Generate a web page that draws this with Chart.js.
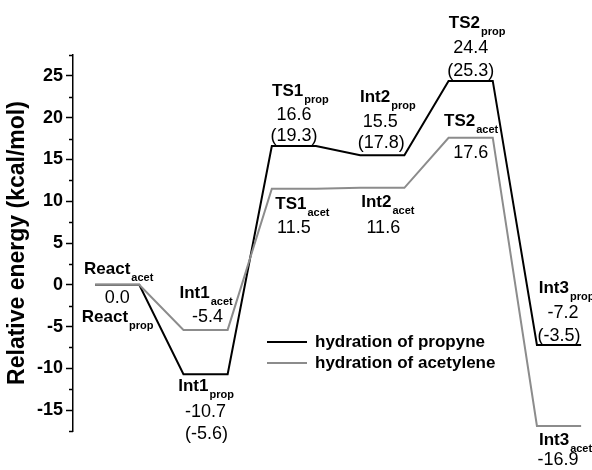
<!DOCTYPE html>
<html>
<head>
<meta charset="utf-8">
<script src="https://cdn.jsdelivr.net/npm/chart.js@4.4.1/dist/chart.umd.min.js"></script>
<style>
    html, body { margin: 0; padding: 0; background: #fff; }
    #wrap { width: 592px; height: 470px; }
</style>
</head>
<body>
<div id="wrap"><canvas id="chart"></canvas></div>
<script>
// States along the reaction path
const states = ['React', 'Int1', 'TS1', 'Int2', 'TS2', 'Int3'];
const subs = ['prop', 'acet'];

// Relative energies (kcal/mol)
const propyne = [0.0, -10.7, 16.6, 15.5, 24.4, -7.2];
const propyneAlt = [null, -5.6, 19.3, 17.8, 25.3, -3.5];   // values in brackets
const acetylene = [0.0, -5.4, 11.5, 11.6, 17.6, -16.9];

const seriesNames = ['hydration of propyne', 'hydration of acetylene'];
const yLabelTicks = [-15, -10, -5, 0, 5, 10, 15, 20, 25];

const FONT = "'Liberation Sans', Arial, Helvetica, sans-serif";
const BLACK = '#000000';
const GRAY = '#8c8c8c';
const PLATEAU = 0.5;   // width of an energy level, in state units

// label offsets [dx, dy] from plateau centre / level, px (baseline)
const propLabels = [
    { name: [0, 37] },
    { name: [0, 17], val: [0, 43], alt: [1, 65] },
    { name: [6, -50], val: [0, -26], alt: [0, -5] },
    { name: [5, -53], val: [-2, -28], alt: [-1, -7] },
    { name: [6, -53], val: [0, -28], alt: [0, -5] },
    { name: [7, -52], val: [4, -27], alt: [0, -4] }
];
const acetLabels = [
    { name: [1, -11], val: [0, 18] },
    { name: [0, -32], val: [2, -8] },
    { name: [8, 20], val: [0, 44] },
    { name: [5, 19], val: [1, 45] },
    { name: [0, -12], val: [0, 20] },
    { name: [6, 19], val: [-1, 39] }
];

function pathPoints(energies) {
    return energies.flatMap((e, i) => [{ x: i, y: e }, { x: i + PLATEAU, y: e }]);
}

const isMajor = v => yLabelTicks.includes(v);

function drawName(ctx, cx, y, name, sub) {
    ctx.font = 'bold 17px ' + FONT;
    const w1 = ctx.measureText(name).width;
    ctx.font = 'bold 11px ' + FONT;
    const w2 = ctx.measureText(sub).width;
    const x0 = cx - (w1 + w2) / 2;
    ctx.font = 'bold 17px ' + FONT;
    ctx.fillText(name, x0, y);
    ctx.font = 'bold 11px ' + FONT;
    ctx.fillText(sub, x0 + w1 + 1, y + 7);
}

function drawValue(ctx, cx, y, text) {
    ctx.font = '18px ' + FONT;
    ctx.textAlign = 'center';
    ctx.fillText(text, cx, y);
    ctx.textAlign = 'left';
}

const labelPlugin = {
    id: 'levelLabels',
    afterDraw(chart) {
        const ctx = chart.ctx;
        const xs = chart.scales.x, ys = chart.scales.y;
        ctx.save();
        ctx.fillStyle = BLACK;
        ctx.textBaseline = 'alphabetic';
        ctx.textAlign = 'left';

        const series = [
            { vals: propyne, alt: propyneAlt, layout: propLabels, sub: subs[0] },
            { vals: acetylene, alt: null, layout: acetLabels, sub: subs[1] }
        ];
        series.forEach(s => {
            states.forEach((st, i) => {
                const cx = xs.getPixelForValue(i + PLATEAU / 2);
                const cy = ys.getPixelForValue(s.vals[i]);
                const L = s.layout[i];
                if (L.name) drawName(ctx, cx + L.name[0], cy + L.name[1], st, s.sub);
                if (L.val) drawValue(ctx, cx + L.val[0], cy + L.val[1], s.vals[i].toFixed(1));
                if (L.alt && s.alt && s.alt[i] !== null) {
                    drawValue(ctx, cx + L.alt[0], cy + L.alt[1], '(' + s.alt[i].toFixed(1) + ')');
                }
            });
        });

        // minor ticks on the y axis
        ctx.strokeStyle = BLACK;
        ctx.lineWidth = 1.5;
        ys.ticks.forEach(t => {
            if (isMajor(t.value)) return;
            const y = Math.round(ys.getPixelForValue(t.value)) + 0.5;
            ctx.beginPath();
            ctx.moveTo(chart.chartArea.left - 4, y);
            ctx.lineTo(chart.chartArea.left, y);
            ctx.stroke();
        });

        // legend
        const lx = chart.chartArea.left + 194;
        const ly = chart.chartArea.top + 287;
        [BLACK, GRAY].forEach((c, k) => {
            const y = ly + k * 21;
            ctx.strokeStyle = c;
            ctx.lineWidth = 2;
            ctx.beginPath();
            ctx.moveTo(lx, y);
            ctx.lineTo(lx + 40, y);
            ctx.stroke();
            ctx.fillStyle = BLACK;
            ctx.font = 'bold 17px ' + FONT;
            ctx.fillText(seriesNames[k], lx + 48, y + 5);
        });
        ctx.restore();
    }
};

new Chart(document.getElementById('chart'), {
    type: 'line',
    data: {
        datasets: [
            {
                label: seriesNames[0],
                data: pathPoints(propyne),
                borderColor: BLACK,
                borderWidth: 2,
                order: 1
            },
            {
                label: seriesNames[1],
                data: pathPoints(acetylene),
                borderColor: GRAY,
                borderWidth: 2,
                order: 0
            }
        ]
    },
    options: {
        responsive: true,
        maintainAspectRatio: false,
        animation: false,
        parsing: false,
        elements: {
            point: { radius: 0, hoverRadius: 0 },
            line: { tension: 0, fill: false }
        },
        layout: { padding: { top: 55, bottom: 39, right: 10, left: 0 } },
        plugins: {
            legend: { display: false },
            tooltip: { enabled: false }
        },
        scales: {
            x: {
                type: 'linear',
                display: false,
                min: -0.25,
                max: 5.51
            },
            y: {
                min: -17.5,
                max: 27.5,
                afterFit(scale) { scale.width = 73; },
                border: { display: true, color: BLACK, width: 1.5 },
                grid: {
                    drawOnChartArea: false,
                    tickLength: 7,
                    tickWidth: 1.5,
                    tickColor: c => (c.tick && isMajor(c.tick.value)) ? BLACK : 'rgba(0,0,0,0)'
                },
                ticks: {
                    stepSize: 2.5,
                    autoSkip: false,
                    padding: 3,
                    color: BLACK,
                    font: { family: FONT, size: 18, weight: 'bold' },
                    callback: v => isMajor(v) ? String(v) : ''
                },
                title: {
                    display: true,
                    text: 'Relative energy (kcal/mol)',
                    color: BLACK,
                    font: { family: FONT, size: 23, weight: 'bold' },
                    padding: { top: 4, bottom: 0 }
                }
            }
        }
    },
    plugins: [labelPlugin]
});
</script>
</body>
</html>
